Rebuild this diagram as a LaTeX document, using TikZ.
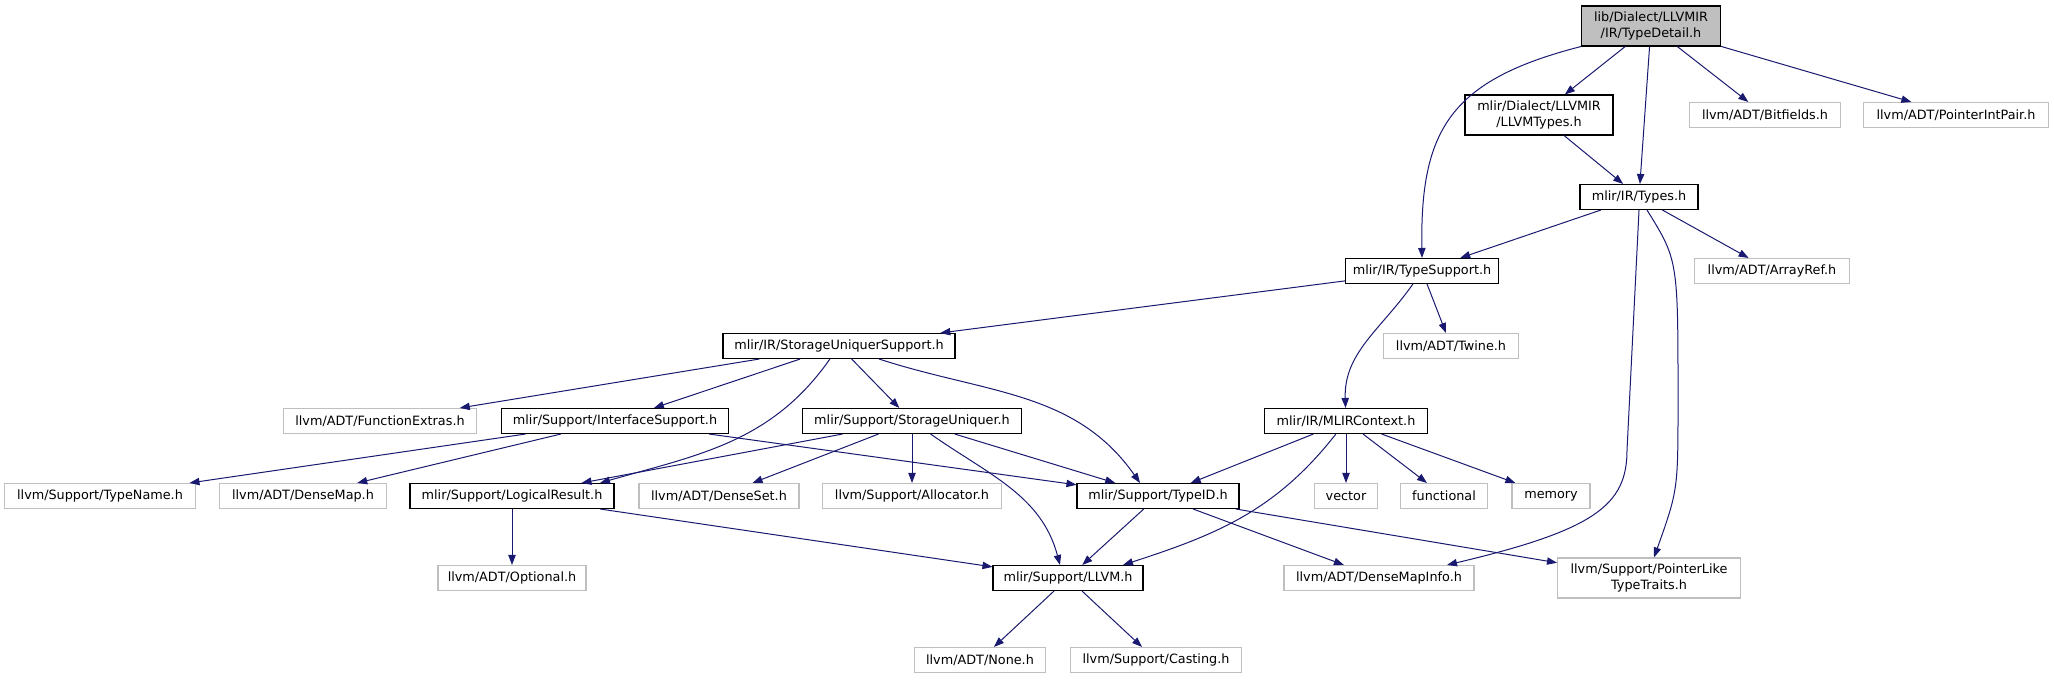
\documentclass[tikz,border=0pt]{standalone}
\usepackage{fontspec}
\setmainfont{DejaVu Sans}
\usepackage{tikz}
\usetikzlibrary{arrows.meta, calc}
\definecolor{navyedge}{RGB}{25,25,112}
\definecolor{lightframe}{RGB}{191,191,191}

\begin{document}
\begin{tikzpicture}[x=0.75pt, y=-0.75pt, font=\fontsize{9.6}{12}\selectfont,
  hdr/.style={draw=black, line width=0.8pt, inner sep=0pt, minimum height=18.75pt, align=center},
  ext/.style={draw=lightframe, line width=0.8pt, inner sep=0pt, minimum height=18.75pt, align=center},
  bw/.style={minimum width=#1*0.75pt},
  tall/.style={minimum height=30pt},
  dep/.style={draw=navyedge, line width=0.75pt, -{Triangle[length=7.5pt, width=5.5pt]}}]
  \useasboundingbox (0,0) rectangle (2054,679);
  % header di partenza e primo livello
  \node[hdr, fill=lightframe, bw=139, tall] (td) at (1651,26) {lib/Dialect/LLVMIR\\/IR/TypeDetail.h};
  \node[hdr, bw=148, tall] (llt) at (1539,115) {mlir/Dialect/LLVMIR\\/LLVMTypes.h};
  \node[ext, bw=151] (bit) at (1765,115) {llvm/ADT/Bitfields.h};
  \node[ext, bw=185] (pip) at (1956,115) {llvm/ADT/PointerIntPair.h};
  \node[hdr, bw=118] (ty) at (1639,197) {mlir/IR/Types.h};
  \node[hdr, bw=153] (ts) at (1422,271) {mlir/IR/TypeSupport.h};
  \node[ext, bw=155] (ar) at (1772,271) {llvm/ADT/ArrayRef.h};
  \node[hdr, bw=232] (sus) at (839,346) {mlir/IR/StorageUniquerSupport.h};
  \node[ext, bw=135] (tw) at (1451,346) {llvm/ADT/Twine.h};
  % livello intermedio
  \node[ext, bw=193] (fe) at (380,421) {llvm/ADT/FunctionExtras.h};
  \node[hdr, bw=227] (is) at (615,421) {mlir/Support/InterfaceSupport.h};
  \node[hdr, bw=219] (su) at (912,421) {mlir/Support/StorageUniquer.h};
  \node[hdr, bw=163] (mc) at (1346,421) {mlir/IR/MLIRContext.h};
  \node[ext, bw=191] (tn) at (100,496) {llvm/Support/TypeName.h};
  \node[ext, bw=167] (dm) at (303,496) {llvm/ADT/DenseMap.h};
  \node[hdr, bw=204] (lr) at (512,496) {mlir/Support/LogicalResult.h};
  \node[ext, bw=160] (ds) at (719,496) {llvm/ADT/DenseSet.h};
  \node[ext, bw=179] (al) at (912,496) {llvm/Support/Allocator.h};
  \node[hdr, bw=162] (tid) at (1158,496) {mlir/Support/TypeID.h};
  \node[ext, bw=63] (vec) at (1346,496) {vector};
  \node[ext, bw=87] (fun) at (1444,496) {functional};
  \node[ext, bw=78] (mem) at (1551,496) {memory};
  % foglie in basso
  \node[ext, bw=148] (opt) at (512,578) {llvm/ADT/Optional.h};
  \node[hdr, bw=150] (llvm) at (1068,578) {mlir/Support/LLVM.h};
  \node[ext, bw=190] (dmi) at (1379,578) {llvm/ADT/DenseMapInfo.h};
  \node[ext, bw=183, tall] (plt) at (1649,578) {llvm/Support/PointerLike\\TypeTraits.h};
  \node[ext, bw=131] (none) at (980,660) {llvm/ADT/None.h};
  \node[ext, bw=171] (cast) at (1156,660) {llvm/Support/Casting.h};

  % dipendenze
  \draw[dep] (td.south west) .. controls (1450,80) and (1420,130) .. (ts.north);
  \draw[dep] (td) -- (llt);
  \draw[dep] (td) -- (ty);
  \draw[dep] (td) -- (bit);
  \draw[dep] (td) -- (pip);
  \draw[dep] (llt) -- (ty);
  \draw[dep] (ty) -- (ts);
  \draw[dep] (ty) -- (ar);
  \draw[dep] (ty.south) -- (1627,450) .. controls (1627,505) and (1595,530) .. ($(dmi.north)+(68,0)$);
  \draw[dep] ($(ty.south)+(8,0)$) .. controls (1678,260) .. (1678,400) .. controls (1678,490) .. ($(plt.north)+(5,0)$);
  \draw[dep] (ts) -- (sus);
  \draw[dep] (ts) -- (tw);
  \draw[dep] (ts) to[out=-125, in=92] (mc);
  \draw[dep] (sus) -- (fe);
  \draw[dep] (sus) -- (is);
  \draw[dep] (sus) to[out=-125, in=16] ($(lr.north)+(88,0)$);
  \draw[dep] (sus) -- (su);
  \draw[dep] (sus) to[out=-18, in=125] ($(tid.north)+(-18,0)$);
  \draw[dep] (is) -- (tn);
  \draw[dep] (is) -- (dm);
  \draw[dep] (is) -- (tid);
  \draw[dep] (su) -- (lr);
  \draw[dep] (su) -- (ds);
  \draw[dep] (su) -- (al);
  \draw[dep] (su) -- (tid);
  \draw[dep] (su) to[out=-35, in=105] ($(llvm.north)+(-8,0)$);
  \draw[dep] (mc) -- (tid);
  \draw[dep] (mc) to[out=-128, in=18] ($(llvm.north)+(55,0)$);
  \draw[dep] (mc) -- (vec);
  \draw[dep] (mc) -- (fun);
  \draw[dep] (mc) -- (mem);
  \draw[dep] (lr) -- (opt);
  \draw[dep] (lr) -- (llvm);
  \draw[dep] (tid) -- (llvm);
  \draw[dep] (tid) -- (dmi);
  \draw[dep] (tid) -- (plt);
  \draw[dep] (llvm) -- (none);
  \draw[dep] (llvm) -- (cast);
\end{tikzpicture}
\end{document}
